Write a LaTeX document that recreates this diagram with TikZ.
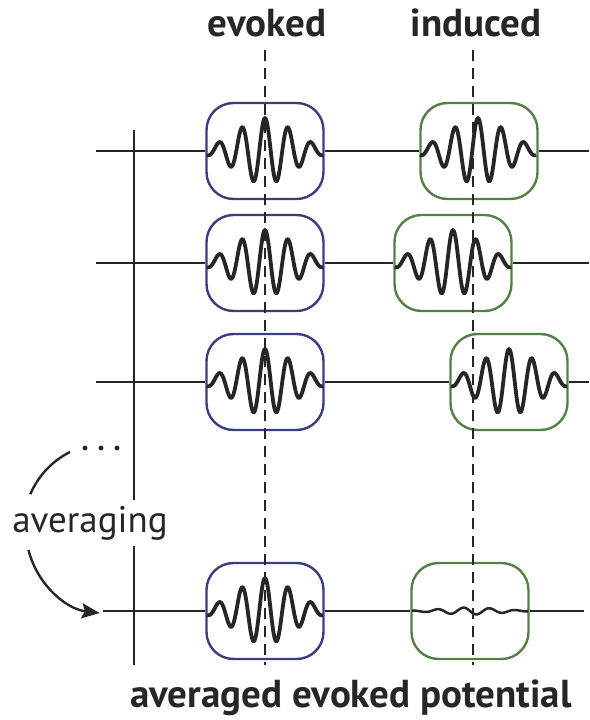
\documentclass[tikz,border=0pt]{standalone}
\usepackage{fontspec}
\setmainfont{PT Sans}
\usetikzlibrary{arrows.meta}
\definecolor{boxblue}{RGB}{58,62,128}
\definecolor{boxgreen}{RGB}{84,128,72}
\definecolor{ink}{RGB}{38,38,38}
\newcommand\mywavelet[2]{plot[domain=#1-58:#1+58, samples=170, smooth] (\x, {#2 - 33*exp(-(((\x-#1)/40)^2))*cos((\x-#1)/23*360)})}
\begin{document}
\begin{tikzpicture}[x=1pt,y=-1pt,
  trace/.style={draw=ink,line width=2.5pt},
  wave/.style={draw=ink,line width=3.8pt,line join=round},
  ebox/.style={draw=boxblue,line width=2.4pt,rounded corners=27pt,minimum width=117pt,minimum height=96pt,inner sep=0pt},
  ibox/.style={ebox,draw=boxgreen},
  guide/.style={draw=ink,line width=2pt,dash pattern=on 11pt off 7pt},
  title/.style={font=\bfseries\fontsize{39}{42}\selectfont,text=ink,anchor=base,inner sep=0pt},
]
\useasboundingbox (0,0) rectangle (589,720);

% row end points
\coordinate (r1s) at (96,151);  \coordinate (r1e) at (589,151);
\coordinate (r2s) at (96,263);  \coordinate (r2e) at (589,263);
\coordinate (r3s) at (96,382);  \coordinate (r3e) at (589,382);
\coordinate (r4s) at (103,611); \coordinate (r4e) at (584,611);

% boxes
\node[ebox] (e1) at (265,151) {};
\node[ebox] (e2) at (265,263) {};
\node[ebox] (e3) at (265,382) {};
\node[ebox] (e4) at (265,611) {};
\node[ibox] (i1) at (479,151) {};
\node[ibox] (i2) at (453,263) {};
\node[ibox] (i3) at (509,382) {};
\node[ibox] (i4) at (470,611) {};

% straight traces
\draw[trace] (r1s) -- (e1.west) (e1.east) -- (i1.west) (i1.east) -- (r1e);
\draw[trace] (r2s) -- (e2.west) (e2.east) -- (i2.west) (i2.east) -- (r2e);
\draw[trace] (r3s) -- (e3.west) (e3.east) -- (i3.west) (i3.east) -- (r3e);
\draw[trace] (r4s) -- (e4.west) (e4.east) -- (i4.west) (i4.east) -- (r4e);

% wavelets
\draw[wave] \mywavelet{265}{151};
\draw[wave] \mywavelet{265}{263};
\draw[wave] \mywavelet{265}{382};
\draw[wave] \mywavelet{265}{611};
\draw[wave] \mywavelet{478}{151};
\draw[wave] \mywavelet{453}{263};
\draw[wave] \mywavelet{509}{382};
\draw[trace] plot[domain=412:528, samples=120, smooth] (\x, {611 + 3.5*exp(-(((\x-470)/40)^2))*sin((\x-470)/26*360)});

% dashed guides
\coordinate (et) at (265,50); \coordinate (eb) at (265,665);
\coordinate (it) at (473,50); \coordinate (ib) at (473,665);
\draw[guide] (et) -- (eb);
\draw[guide] (it) -- (ib);

% left vertical
\coordinate (vt) at (134,130); \coordinate (vb) at (134,665);
\draw[trace,line width=2.2pt] (vt) -- (vb);

% averaging
\node[font=\fontsize{37}{40}\selectfont,text=ink,fill=white,anchor=base,inner xsep=1pt,inner ysep=6pt] (avg) at (90,532) {averaging};
\fill[ink] (85,448) circle (2.4) (101,448) circle (2.4) (117,448) circle (2.4);
\draw[ink,line width=2.4pt] (70,452) arc[start angle=243.4, end angle=203, radius=84];
\draw[ink,line width=2.4pt,-{Stealth[length=18pt,width=15pt,inset=3pt]}] (28.5,550) arc[start angle=166, end angle=97, radius=84];

% titles
\node[title] (tev) at (267,36) {evoked};
\node[title] (tin) at (476,36) {induced};
\node[title] (tav) at (351,707) {averaged evoked potential};
\end{tikzpicture}
\end{document}
